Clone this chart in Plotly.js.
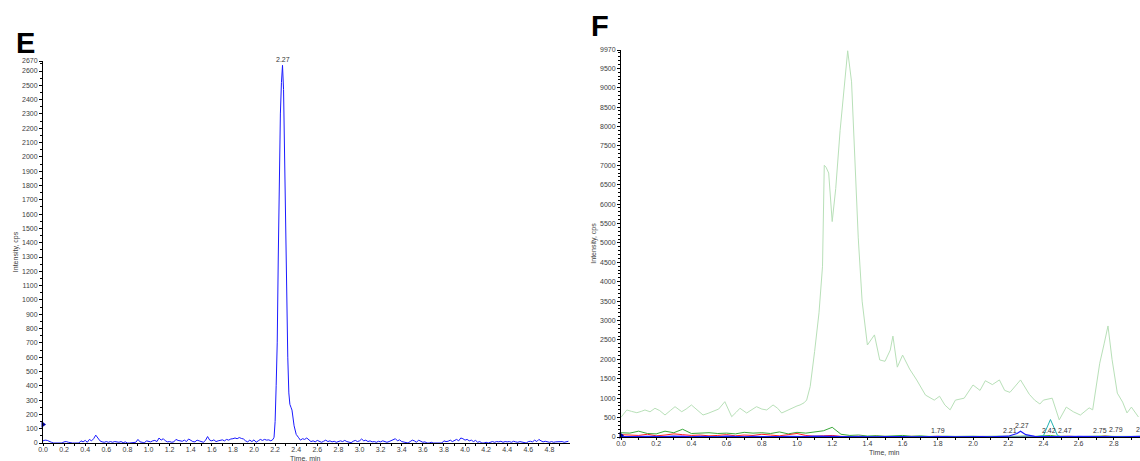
<!DOCTYPE html>
<html>
<head>
<meta charset="utf-8">
<script src="https://cdn.plot.ly/plotly-3.0.1.min.js"></script>
<style>html,body{margin:0;padding:0;background:#fff;}#chart{width:1140px;height:461px;}</style>
</head>
<body>
<div id="chart"></div>
<script>
// ---------- Panel E data ----------
var tE = [
0,0.02,0.04,0.06,0.08,0.1,0.12,0.14,0.16,0.18,
0.2,0.22,0.24,0.26,0.28,0.3,0.32,0.34,0.36,0.38,
0.4,0.42,0.44,0.46,0.48,0.5,0.52,0.54,0.56,0.58,
0.6,0.62,0.64,0.66,0.68,0.7,0.72,0.74,0.76,0.78,
0.8,0.82,0.84,0.86,0.88,0.9,0.92,0.94,0.96,0.98,
1,1.02,1.04,1.06,1.08,1.1,1.12,1.14,1.16,1.18,
1.2,1.22,1.24,1.26,1.28,1.3,1.32,1.34,1.36,1.38,
1.4,1.42,1.44,1.46,1.48,1.5,1.52,1.54,1.56,1.58,
1.6,1.62,1.64,1.66,1.68,1.7,1.72,1.74,1.76,1.78,
1.8,1.82,1.84,1.86,1.88,1.9,1.92,1.94,1.96,1.98,
2,2.02,2.04,2.06,2.08,2.1,2.12,2.14,2.16,2.18,
2.19,2.2,2.21,2.22,2.23,2.24,2.25,2.26,2.27,2.28,2.29,2.3,2.31,2.32,2.33,2.34,2.35,
2.36,2.38,2.4,2.42,2.44,2.46,2.48,2.5,2.52,2.54,
2.56,2.58,2.6,2.62,2.64,2.66,2.68,2.7,2.72,2.74,
2.76,2.78,2.8,2.82,2.84,2.86,2.88,2.9,2.92,2.94,
2.96,2.98,3,3.02,3.04,3.06,3.08,3.1,3.12,3.14,
3.16,3.18,3.2,3.22,3.24,3.26,3.28,3.3,3.32,3.34,
3.36,3.38,3.4,3.42,3.44,3.46,3.48,3.5,3.52,3.54,
3.56,3.58,3.6,3.62,3.64,3.66,3.68,3.7,3.72,3.74,
3.76,3.78,3.8,3.82,3.84,3.86,3.88,3.9,3.92,3.94,
3.96,3.98,4,4.02,4.04,4.06,4.08,4.1,4.12,4.14,
4.16,4.18,4.2,4.22,4.24,4.26,4.28,4.3,4.32,4.34,
4.36,4.38,4.4,4.42,4.44,4.46,4.48,4.5,4.52,4.54,
4.56,4.58,4.6,4.62,4.64,4.66,4.68,4.7,4.72,4.74,
4.76,4.78,4.8,4.82,4.84,4.86,4.88,4.9,4.92,4.94,
4.96,4.98];
var intensityE = [
15,20,18,10,5,0,0,0,0,0,
8,10,5,0,0,0,0,0,15,8,
18,5,25,15,30,55,35,15,8,5,
10,5,10,5,10,8,5,10,2,8,
0,0,0,0,5,25,8,5,0,15,
12,8,15,18,10,35,20,30,15,8,
10,5,8,25,18,15,12,20,10,28,
20,10,8,20,15,10,5,18,45,20,
15,22,10,15,18,22,15,25,20,28,
30,35,30,38,32,28,15,8,20,10,
22,5,15,25,18,25,20,22,15,25,
40,150,400,700,1300,1900,2300,2520,2640,2470,2000,1400,900,600,350,270,250,
230,120,60,40,20,30,25,35,20,10,
15,8,18,10,5,12,20,10,15,8,
12,5,8,15,10,18,10,5,2,12,
18,10,15,28,15,20,10,15,8,10,
5,12,8,15,10,5,10,15,25,30,
15,22,10,5,0,0,10,20,15,5,
20,15,5,8,0,0,5,0,0,0,
0,0,15,10,12,20,10,15,25,15,
35,30,20,25,15,20,10,18,5,10,
0,0,5,0,8,10,5,10,8,12,
5,10,8,10,5,12,8,5,10,5,
0,0,10,12,8,20,10,25,15,8,
12,10,5,10,5,8,10,12,10,5,
10,12];
var markerE_t = [0];
var markerE_y = [130];
var yTicksE = [0,100,200,300,400,500,600,700,800,900,1000,1100,1200,1300,1400,1500,1600,1700,1800,1900,2000,2100,2200,2300,2400,2500,2600,2670];
var peakLabelE = {t: 2.27, y: 2640, text: "2.27"};

// ---------- Panel F data ----------
var tBig = [
0,0.033,0.06,0.09,0.115,0.136,0.165,0.193,0.22,0.25,
0.28,0.307,0.345,0.37,0.4,0.435,0.466,0.495,0.523,0.555,
0.59,0.629,0.655,0.676,0.714,0.74,0.77,0.8,0.828,0.864,
0.89,0.913,0.94,0.97,1,1.017,1.04,1.055,1.075,1.1,
1.125,1.145,1.155,1.165,1.18,1.2,1.22,1.245,1.27,1.288,
1.31,1.33,1.348,1.37,1.4,1.44,1.47,1.5,1.53,1.545,
1.57,1.6,1.64,1.68,1.73,1.78,1.81,1.84,1.87,1.9,
1.95,2,2.04,2.07,2.11,2.15,2.18,2.21,2.24,2.27,
2.32,2.35,2.38,2.4,2.45,2.49,2.53,2.57,2.61,2.66,
2.68,2.72,2.745,2.767,2.79,2.82,2.85,2.875,2.9,2.94];
var lightGreen = [
508,696,660,626,660,696,650,740,680,567,
680,781,652,720,825,700,567,610,652,720,
910,523,640,740,618,700,781,720,696,825,
740,618,680,740,800,825,880,953,1300,2200,
3200,4400,7000,6950,6800,5550,6400,7900,9200,9950,
9150,7200,5130,3500,2370,2630,1985,1950,2240,2600,
1800,2110,1750,1470,1080,950,1050,825,700,950,
1000,1340,1200,1450,1350,1470,1200,1150,1300,1470,
1100,950,850,950,1000,440,770,650,565,750,
700,1900,2400,2860,2000,1130,900,620,770,515];
var tSmall = [
0,0.05,0.1,0.15,0.2,0.25,0.3,0.35,0.4,0.45,
0.5,0.55,0.6,0.65,0.7,0.75,0.8,0.85,0.9,0.95,
1,1.05,1.1,1.15,1.2,1.25,1.3,1.35,1.4,1.45,
1.5,1.55,1.6,1.65,1.7,1.75,1.8,1.85,1.9,1.95,
2,2.05,2.1,2.15,2.2,2.25,2.27,2.3,2.35,2.4,
2.44,2.48,2.5,2.55,2.6,2.65,2.7,2.75,2.8,2.85,
2.9,2.95];
var greenF = [
110,100,150,90,80,150,110,200,90,100,
110,90,100,80,120,100,110,90,130,80,
120,100,130,160,250,70,40,50,25,35,
20,30,40,20,30,15,25,20,15,25,
20,15,25,20,15,30,20,25,15,30,
40,20,15,20,10,20,30,25,15,20,
10,15];
var redF = [
60,50,40,70,30,50,80,60,40,50,
30,40,60,30,50,40,70,50,30,60,
90,40,20,30,40,15,10,20,10,15,
10,5,10,15,5,10,5,10,15,5,
10,5,10,5,10,15,10,5,10,5,
10,5,10,5,15,10,5,20,10,5,
10,5];
var cyanF = [
5,10,5,0,5,10,5,15,5,0,
5,10,5,5,0,10,5,5,10,0,
5,5,10,5,0,5,10,5,0,5,
5,0,5,10,5,0,5,5,10,5,
0,5,10,5,5,10,5,5,5,30,
450,40,5,10,5,0,5,10,5,5,
0,5];
var magentaF = [
15,5,20,10,0,15,5,25,10,5,
0,15,10,5,20,0,10,5,15,10,
5,20,10,0,15,5,10,20,5,0,
10,5,15,0,5,10,20,5,0,10,
5,15,5,10,0,5,10,5,15,5,
10,0,5,20,5,10,15,5,0,10,
5,10];
var yellowF = [
0,5,10,0,5,0,10,5,0,5,
10,0,5,5,0,10,0,5,0,5,
0,5,10,0,5,0,5,10,0,5,
0,5,0,10,5,0,5,0,5,10,
0,5,0,5,10,0,5,0,5,0,
5,10,0,5,0,5,10,0,5,0,
5,0];
var blueF = [
10,5,10,15,5,10,20,10,5,15,
10,5,20,10,5,15,10,5,10,15,
5,10,20,10,15,10,5,15,10,5,
10,15,10,5,10,15,20,10,5,10,
15,10,5,15,20,90,150,60,15,10,
15,10,5,10,15,10,5,15,10,5,
10,15];
var markerF_t = [0];
var markerF_y = [40];
var yTicksF = [0,500,1000,1500,2000,2500,3000,3500,4000,4500,5000,5500,6000,6500,7000,7500,8000,8500,9000,9500,9970];
var peakLabelsF_t = [1.8, 2.21, 2.28, 2.43, 2.525, 2.72, 2.81, 2.912];
var peakLabelsF_y = [160, 160, 290, 160, 160, 160, 200, 200];
var peakLabelsF_text = ["1.79", "2.21", "2.27", "2.42", "2.47", "2.75", "2.79", "2"];

// ---------- traces ----------
var traces = [
  {x: tE, y: intensityE, xaxis: 'x', yaxis: 'y', type: 'scatter', mode: 'lines', line: {color: '#1a1aff', width: 1}},
  {x: markerE_t, y: markerE_y, xaxis: 'x', yaxis: 'y', type: 'scatter', mode: 'markers', marker: {symbol: 'triangle-right', size: 6, color: '#0000a0'}, cliponaxis: false},
  {x: tBig, y: lightGreen, xaxis: 'x2', yaxis: 'y2', type: 'scatter', mode: 'lines', line: {color: '#b8e0b8', width: 1}},
  {x: tSmall, y: greenF, xaxis: 'x2', yaxis: 'y2', type: 'scatter', mode: 'lines', line: {color: '#3aa83a', width: 1}},
  {x: tSmall, y: redF, xaxis: 'x2', yaxis: 'y2', type: 'scatter', mode: 'lines', line: {color: '#ff2020', width: 1}},
  {x: tSmall, y: yellowF, xaxis: 'x2', yaxis: 'y2', type: 'scatter', mode: 'lines', line: {color: '#e0d000', width: 1}},
  {x: tSmall, y: magentaF, xaxis: 'x2', yaxis: 'y2', type: 'scatter', mode: 'lines', line: {color: '#e020e0', width: 1}},
  {x: tSmall, y: cyanF, xaxis: 'x2', yaxis: 'y2', type: 'scatter', mode: 'lines', line: {color: '#20b0b0', width: 1}},
  {x: tSmall, y: blueF, xaxis: 'x2', yaxis: 'y2', type: 'scatter', mode: 'lines', line: {color: '#1a1aff', width: 1.2}},
  {x: markerF_t, y: markerF_y, xaxis: 'x2', yaxis: 'y2', type: 'scatter', mode: 'markers', marker: {symbol: 'triangle-right', size: 6, color: '#0000a0'}, cliponaxis: false}
];

var W = 1140, H = 461;
var FONT = 'Liberation Sans, Arial, sans-serif';
var tickFont = {family: FONT, size: 7, color: '#404040'};
var titleFont = {family: FONT, size: 7, color: '#404040'};

function xAxis(domain, range, anchor) {
  return {
    domain: domain, range: range, anchor: anchor, showgrid: false, zeroline: false,
    showline: true, linecolor: '#000', linewidth: 1,
    ticks: 'outside', ticklen: 2, tickcolor: '#000', tickwidth: 1,
    dtick: 0.2, tick0: 0, tickformat: '.1f', tickfont: tickFont, ticklabelstandoff: -2,
    minor: {dtick: 0.1, ticklen: 2, tickcolor: '#000', ticks: 'outside'},
    fixedrange: true
  };
}
function yAxis(domain, range, vals, anchor, minorStep) {
  return {
    domain: domain, range: range, anchor: anchor, showgrid: false, zeroline: false,
    showline: true, linecolor: '#000', linewidth: 1,
    ticks: 'outside', ticklen: 3, tickcolor: '#000', tickwidth: 1,
    tickmode: 'array', tickvals: vals, ticktext: vals.map(String), tickfont: tickFont,
    minor: {dtick: minorStep, tick0: 0, ticklen: 2, tickcolor: '#000', ticks: 'outside'},
    title: {text: 'Intensity, cps', font: titleFont},
    fixedrange: true
  };
}

var xa1 = xAxis([43 / W, 570 / W], [0, 4.995], 'y');
var ya1 = yAxis([(H - 443) / H, (H - 61) / H], [0, 2670], yTicksE, 'x', 50);
var xa2 = xAxis([621 / W, 1], [0, (W - 621) / 176], 'y2');
var ya2 = yAxis([(H - 437) / H, (H - 50) / H], [0, 9970], yTicksF, 'x2', 100);

var annotations = [
  {xref: 'paper', yref: 'paper', x: 25 / W, y: 1 - 43 / H, text: '<b>E</b>', showarrow: false,
   font: {family: FONT, size: 29, color: '#000'}, xanchor: 'center', yanchor: 'middle'},
  {xref: 'paper', yref: 'paper', x: 600 / W, y: 1 - 26 / H, text: '<b>F</b>', showarrow: false,
   font: {family: FONT, size: 29, color: '#000'}, xanchor: 'center', yanchor: 'middle'},
  {xref: 'paper', yref: 'paper', x: 305 / W, y: 1 - 458 / H, text: 'Time, min', showarrow: false,
   font: titleFont, xanchor: 'center', yanchor: 'middle'},
  {xref: 'paper', yref: 'paper', x: 884 / W, y: 1 - 452 / H, text: 'Time, min', showarrow: false,
   font: titleFont, xanchor: 'center', yanchor: 'middle'},
  {xref: 'x', yref: 'y', x: peakLabelE.t, y: peakLabelE.y, text: peakLabelE.text, showarrow: false,
   yanchor: 'bottom', yshift: 0, font: {family: FONT, size: 7, color: '#333'}}
];
for (var i = 0; i < peakLabelsF_t.length; i++) {
  annotations.push({xref: 'x2', yref: 'y2', x: peakLabelsF_t[i], y: peakLabelsF_y[i], text: peakLabelsF_text[i],
    showarrow: false, xanchor: i === peakLabelsF_t.length - 1 ? 'left' : 'center', yanchor: 'middle',
    font: {family: FONT, size: 7, color: '#333'}});
}

var layout = {
  width: W, height: H, margin: {l: 0, r: 0, t: 0, b: 0},
  paper_bgcolor: '#fff', plot_bgcolor: '#fff', showlegend: false,
  xaxis: xa1, yaxis: ya1, xaxis2: xa2, yaxis2: ya2,
  annotations: annotations, hovermode: false
};
Plotly.newPlot('chart', traces, layout, {staticPlot: true, displayModeBar: false});
</script>
</body>
</html>
